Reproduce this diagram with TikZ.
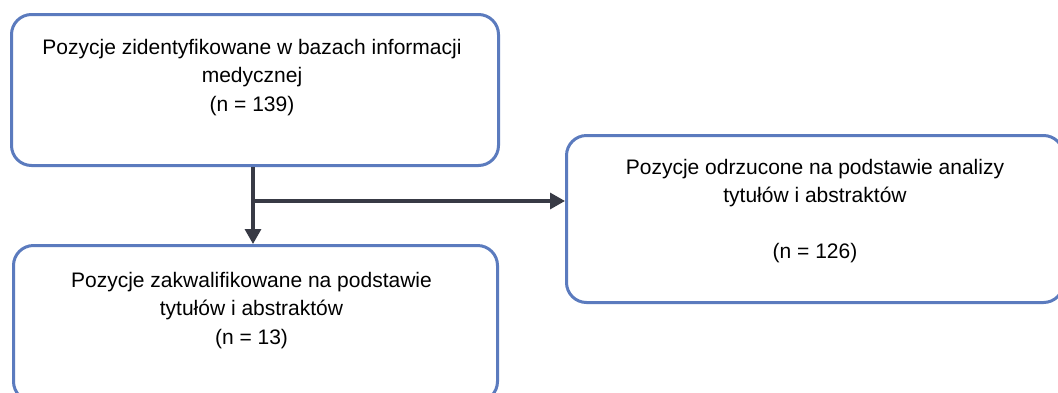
\documentclass[tikz,border=0pt]{standalone}
\usepackage{fontspec}
\setmainfont{Liberation Sans}
\usetikzlibrary{arrows.meta}
\definecolor{boxblue}{HTML}{5B7BBE}
\definecolor{arrowgray}{HTML}{383A45}
\tikzset{
  flowbox/.style={draw=boxblue, line width=3pt, rounded corners=20pt, fill=white, inner sep=0pt},
  boxtext/.style={align=center, anchor=north, inner sep=0pt, font={\fontsize{21}{28.3}\selectfont}},
  conn/.style={draw=arrowgray, line width=3.2pt, -{Triangle[width=16pt,length=15pt]}}
}
\begin{document}
\begin{tikzpicture}[x=1pt,y=-1pt]
\useasboundingbox (0,0) rectangle (1058,392);
\clip (0,0) rectangle (1058,392);
\node[flowbox, minimum width=487pt, minimum height=151pt, anchor=north west] (b1) at (10,13) {};
\node[flowbox, minimum width=484pt, minimum height=156pt, anchor=north west] (b2) at (12,244) {};
\node[flowbox, minimum width=497pt, minimum height=167pt, anchor=north west] (b3) at (565,134) {};
\node[boxtext] (t1) at ([yshift=-26pt,xshift=-3pt]b1.north) {Pozycje zidentyfikowane w bazach informacji\\medycznej\\(n = 139)};
\node[boxtext] (t2) at ([yshift=-28pt,xshift=-4pt]b2.north) {Pozycje zakwalifikowane na podstawie\\tytułów i abstraktów\\(n = 13)};
\node[boxtext] (t3) at ([yshift=-25pt]b3.north) {Pozycje odrzucone na podstawie analizy\\tytułów i abstraktów\\[27pt](n = 126)};
\coordinate (j) at (253,201);
\draw[conn] (b1.south -| j) -- (b2.north -| j);
\draw[conn] (j) -- (j -| b3.west);
\end{tikzpicture}
\end{document}
